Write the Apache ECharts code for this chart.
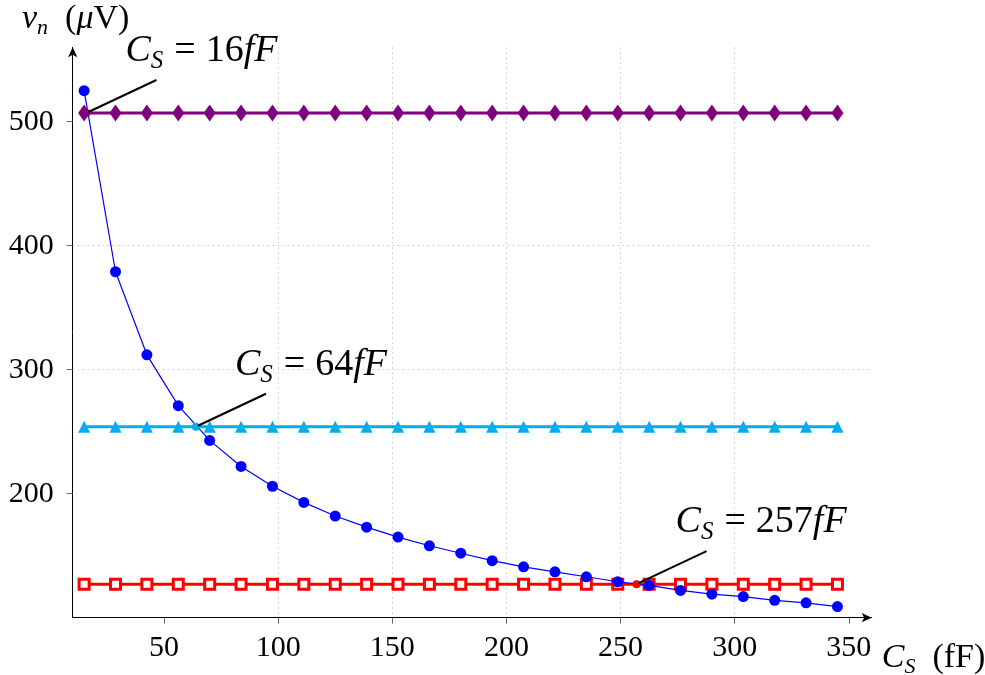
<!DOCTYPE html>
<html><head><meta charset="utf-8">
<script src="https://cdn.jsdelivr.net/npm/echarts@6/dist/echarts.min.js"></script>
<style>html,body{margin:0;padding:0;background:#fff}#c{width:985px;height:675px}</style>
</head><body><div id="c"></div>
<script>
// capacitance C_S (fF)
const capacitance = [15, 28.75, 42.5, 56.25, 70, 83.75, 97.5, 111.25, 125, 138.75, 152.5, 166.25, 180, 193.75, 207.5, 221.25, 235, 248.75, 262.5, 276.25, 290, 303.75, 317.5, 331.25, 345];
// noise voltage v_n (uV)
const noiseVoltage = [525, 379, 312, 271, 243, 222, 206, 193, 182, 173, 165, 158, 152, 146, 141, 137, 133, 129, 126, 122, 119, 117, 114, 112, 109];
const level16 = [507, 507, 507, 507, 507, 507, 507, 507, 507, 507, 507, 507, 507, 507, 507, 507, 507, 507, 507, 507, 507, 507, 507, 507, 507];
const level64 = [254, 254, 254, 254, 254, 254, 254, 254, 254, 254, 254, 254, 254, 254, 254, 254, 254, 254, 254, 254, 254, 254, 254, 254, 254];
const level257 = [127, 127, 127, 127, 127, 127, 127, 127, 127, 127, 127, 127, 127, 127, 127, 127, 127, 127, 127, 127, 127, 127, 127, 127, 127];
// annotations
const annotationC = [16, 64, 257];
const annotationV = [507, 254, 127];
const annotationLabel = ['16', '64', '257'];
const annotationColor = ['#800080', '#00aeef', '#ff0000'];
// ticks
const xTicks = [50, 100, 150, 200, 250, 300, 350];
const yTicks = [200, 300, 400, 500];

const FONT = 'Liberation Serif';
function makeRich(size, subSize, eqL, eqR, gap) {
  const lh = Math.round(size * 1.2);
  return {
    i: {fontFamily: FONT, fontStyle: 'italic', fontSize: size, lineHeight: lh, color: '#000'},
    r: {fontFamily: FONT, fontSize: size, lineHeight: lh, color: '#000'},
    e: {fontFamily: FONT, fontSize: size, lineHeight: lh, color: '#000', padding: [0, eqR, 0, eqL]},
    g: {fontFamily: FONT, fontSize: size, lineHeight: lh, color: '#000', padding: [0, 0, 0, gap]},
    s: {fontFamily: FONT, fontStyle: 'italic', fontSize: subSize, lineHeight: subSize, verticalAlign: 'bottom', color: '#000', padding: [0, 1, 0, 0]}
  };
}
const axisRich = makeRich(34, 22, 0, 0, 16);
const annRich = makeRich(38, 25, 10, 10, 0);
const pairs = arr => capacitance.map((c, k) => [c, arr[k]]);

const chart = echarts.init(document.getElementById('c'), null, {renderer: 'canvas'});
chart.setOption({
  animation: false,
  backgroundColor: '#fff',
  grid: {left: 72.7, right: 113.3, top: 47.3, bottom: 57.3, containLabel: false, outerBoundsMode: 'none'},
  xAxis: {
    type: 'value', min: 10, max: 360,
    name: '{i|C}{s|S}{g|(fF)}', nameLocation: 'end', nameGap: 10,
    nameTextStyle: {rich: axisRich, padding: [80, 0, 0, 0], verticalAlign: 'middle', align: 'left'},
    axisLine: {show: true, lineStyle: {color: '#000', width: 1}, symbol: ['none', 'arrow'], symbolSize: [7, 10]},
    axisTick: {show: true, customValues: xTicks, length: 6, lineStyle: {color: '#666'}},
    axisLabel: {customValues: xTicks, fontFamily: FONT, fontSize: 30, color: '#000', margin: 15},
    splitLine: {show: true, showMinLine: false, showMaxLine: false, lineStyle: {color: '#c8c8c8', type: [1.5, 3.5], width: 1}}
  },
  yAxis: {
    type: 'value', min: 100, max: 560,
    name: '{i|v}{s|n}{g|(}{i|μ}{r|V)}', nameLocation: 'end', nameGap: 8,
    nameTextStyle: {rich: axisRich, align: 'center', padding: [0, 0, 0, 6]},
    axisLine: {show: true, lineStyle: {color: '#000', width: 1}, symbol: ['none', 'arrow'], symbolSize: [7, 10]},
    axisTick: {show: true, customValues: yTicks, length: 6, lineStyle: {color: '#666'}},
    axisLabel: {customValues: yTicks, fontFamily: FONT, fontSize: 30, color: '#000', margin: 19},
    splitLine: {show: true, showMinLine: false, showMaxLine: false, lineStyle: {color: '#c8c8c8', type: [1.5, 3.5], width: 1}}
  },
  series: [
    {
      type: 'line', name: '257fF', data: pairs(level257), symbol: 'rect', symbolSize: 10,
      lineStyle: {color: '#ff0000', width: 3}, itemStyle: {color: '#ffffff', borderColor: '#ff0000', borderWidth: 3}, z: 2
    },
    {
      type: 'line', name: 'vn', data: pairs(noiseVoltage), symbol: 'circle', symbolSize: 11,
      lineStyle: {color: '#0000ff', width: 1.2}, itemStyle: {color: '#0000ff'}, z: 3
    },
    {
      type: 'line', name: '64fF', data: pairs(level64), symbol: 'triangle', symbolSize: 12,
      lineStyle: {color: '#00aeef', width: 3}, itemStyle: {color: '#00aeef'}, z: 4
    },
    {
      type: 'line', name: '16fF', data: pairs(level16), symbol: 'diamond', symbolSize: [12, 17],
      lineStyle: {color: '#800080', width: 3}, itemStyle: {color: '#800080'}, z: 5
    },
    {
      type: 'custom', name: 'annotations', z: 10, clip: false,
      data: annotationC.map((c, k) => [c, annotationV[k], k]),
      renderItem: function (params, api) {
        const p = api.coord([api.value(0), api.value(1)]);
        const k = api.value(2);
        const ex = p[0] + 70, ey = p[1] - 33;
        return {
          type: 'group',
          children: [
            {type: 'circle', shape: {cx: p[0], cy: p[1], r: 4}, style: {fill: annotationColor[k]}},
            {type: 'line', shape: {x1: p[0] + 2, y1: p[1] - 1, x2: ex, y2: ey}, style: {stroke: '#000', lineWidth: 2}},
            {type: 'text', style: {
              x: ex - 31, y: ey - 6, align: 'left', verticalAlign: 'bottom',
              text: '{i|C}{s|S}{e|=}{r|' + annotationLabel[k] + '}{i|fF}', rich: annRich
            }}
          ]
        };
      }
    }
  ]
});
</script>
</body></html>
